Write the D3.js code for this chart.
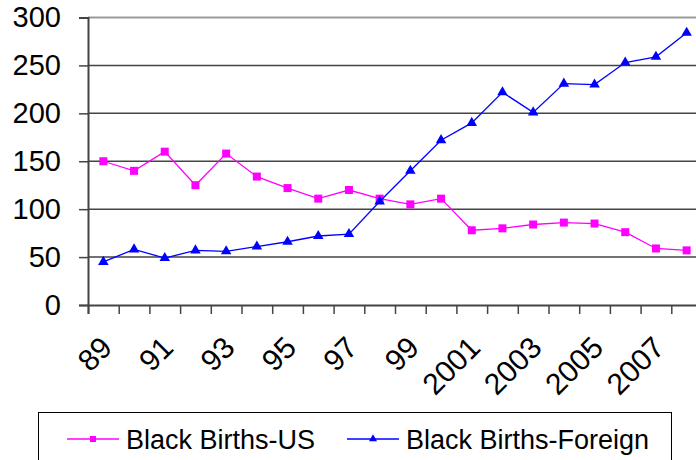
<!DOCTYPE html>
<html>
<head>
<meta charset="utf-8">
<script src="https://cdn.jsdelivr.net/npm/d3@7"></script>
<style>
  body { margin: 0; background: #fff; }
  svg { display: block; font-family: Arial, "Liberation Sans", sans-serif; }
</style>
</head>
<body>
<svg id="chart"></svg>
<script>
// data (thousands)
var years = [1989, 1990, 1991, 1992, 1993, 1994, 1995, 1996, 1997, 1998,
             1999, 2000, 2001, 2002, 2003, 2004, 2005, 2006, 2007, 2008];
var tickLabels = ["89", "", "91", "", "93", "", "95", "", "97", "",
                  "99", "", "2001", "", "2003", "", "2005", "", "2007", ""];
var birthsUS = [150, 140, 160, 125, 158, 134, 122, 111, 120, 111,
                105, 111, 78, 80, 84, 86, 85, 76, 59, 57];
var birthsForeign = [45, 58, 49, 57, 56, 61, 66, 72, 74, 108,
                     140, 172, 190, 222, 201, 231, 230, 253, 259, 284];
var yTicks = [0, 50, 100, 150, 200, 250, 300];
var seriesNames = ["Black Births-US", "Black Births-Foreign"];

var svgWidth = 696;
var svgHeight = 460;
var plotLeft = 88, plotRight = 702, plotTop = 17.5, plotBottom = 305;

var svg = d3.select('#chart')
  .attr("width", svgWidth)
  .attr("height", svgHeight);

var x = d3.scaleBand().domain(years).range([plotLeft, plotRight]);
var xEdges = d3.scaleLinear().domain([0, years.length]).range([plotLeft, plotRight]);
var y = d3.scaleLinear().domain([0, 300]).range([plotBottom, plotTop]);

// gridlines
svg.append("g")
  .selectAll("line")
  .data(yTicks.filter(function(d) { return d > 0; }))
  .enter()
  .append("line")
  .attr("x1", plotLeft)
  .attr("x2", plotRight)
  .attr("y1", function(d) { return y(d); })
  .attr("y2", function(d) { return y(d); })
  .attr("stroke", function(d) { return d == 300 ? "#999" : "#444"; })
  .attr("stroke-width", function(d) { return d == 300 ? 2 : 1.5; });

// y axis
var yAxis = svg.append("g")
  .attr("transform", "translate(" + plotLeft + ",0)")
  .call(d3.axisLeft(y).tickValues(yTicks).tickSize(9).tickPadding(18));
yAxis.select(".domain").attr("stroke", "#444").attr("stroke-width", 2);
yAxis.selectAll(".tick line").attr("stroke", "#444").attr("stroke-width", 1.5);
yAxis.selectAll("text")
  .attr("font-size", 29)
  .attr("font-family", "Arial, 'Liberation Sans', sans-serif")
  .attr("fill", "#000");

// x axis: ticks at category edges
var xAxis = svg.append("g")
  .attr("transform", "translate(0," + plotBottom + ")")
  .call(d3.axisBottom(xEdges).ticks(years.length).tickSize(9).tickFormat(""));
xAxis.select(".domain").attr("stroke", "#444").attr("stroke-width", 2);
xAxis.selectAll(".tick line").attr("stroke", "#444").attr("stroke-width", 1.5);

// rotated category labels
svg.append("g")
  .selectAll("text")
  .data(years)
  .enter()
  .append("text")
  .attr("transform", function(d) {
    var cx = x(d) + x.bandwidth() / 2 + 3;
    return "translate(" + cx + "," + (plotBottom + 37) + ") rotate(-45)";
  })
  .attr("text-anchor", "end")
  .attr("dy", "0.35em")
  .attr("font-size", 30)
  .attr("fill", "#000")
  .text(function(d, i) { return tickLabels[i]; });

var line = d3.line()
  .x(function(d, i) { return x(years[i]) + x.bandwidth() / 2; })
  .y(function(d) { return y(d); });

var triangle = d3.symbol().type(d3.symbolTriangle).size(48);

// US series
svg.append("path")
  .datum(birthsUS)
  .attr("d", line)
  .attr("fill", "none")
  .attr("stroke", "#ff00ff")
  .attr("stroke-width", 1.3);
svg.append("g")
  .selectAll("rect")
  .data(birthsUS)
  .enter()
  .append("rect")
  .attr("x", function(d, i) { return x(years[i]) + x.bandwidth() / 2 - 4; })
  .attr("y", function(d) { return y(d) - 4; })
  .attr("width", 8)
  .attr("height", 8)
  .attr("fill", "#ff00ff");

// Foreign series
svg.append("path")
  .datum(birthsForeign)
  .attr("d", line)
  .attr("fill", "none")
  .attr("stroke", "#0000ff")
  .attr("stroke-width", 1.3);
svg.append("g")
  .selectAll("path")
  .data(birthsForeign)
  .enter()
  .append("path")
  .attr("d", triangle)
  .attr("transform", function(d, i) {
    return "translate(" + (x(years[i]) + x.bandwidth() / 2) + "," + y(d) + ")";
  })
  .attr("fill", "#0000ff");

// legend
var legend = svg.append("g");
legend.append("rect")
  .attr("x", 38.5)
  .attr("y", 412.5)
  .attr("width", 633)
  .attr("height", 80)
  .attr("fill", "none")
  .attr("stroke", "#000")
  .attr("stroke-width", 1);

var legendItems = [
  { x: 67, color: "#ff00ff", marker: "square" },
  { x: 347, color: "#0000ff", marker: "triangle" }
];
legendItems.forEach(function(item, i) {
  var ly = 439;
  legend.append("line")
    .attr("x1", item.x).attr("x2", item.x + 52)
    .attr("y1", ly).attr("y2", ly)
    .attr("stroke", item.color)
    .attr("stroke-width", 1.3);
  if (item.marker == "square") {
    legend.append("rect")
      .attr("x", item.x + 26 - 3).attr("y", ly - 3)
      .attr("width", 6).attr("height", 6)
      .attr("fill", item.color);
  } else {
    legend.append("path")
      .attr("d", d3.symbol().type(d3.symbolTriangle).size(28))
      .attr("transform", "translate(" + (item.x + 26) + "," + ly + ")")
      .attr("fill", item.color);
  }
  legend.append("text")
    .attr("x", item.x + 59)
    .attr("y", 449)
    .attr("font-size", 27)
    .attr("fill", "#000")
    .text(seriesNames[i]);
});
</script>
</body>
</html>
